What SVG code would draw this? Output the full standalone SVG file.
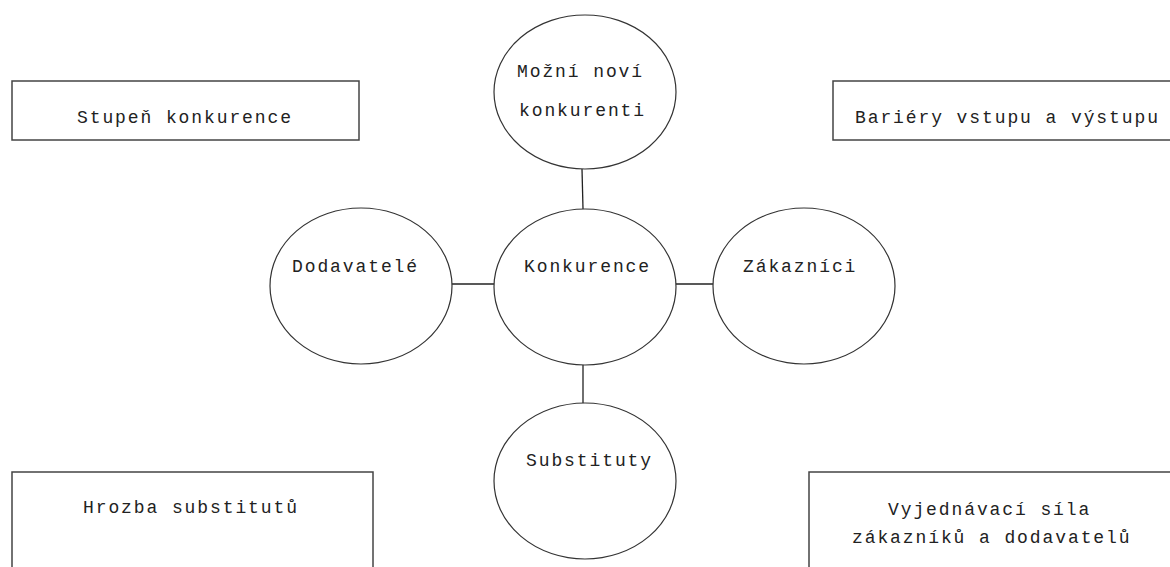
<svg xmlns="http://www.w3.org/2000/svg" width="1170" height="567" viewBox="0 0 1170 567">
<style>
.box{fill:#fff;stroke:#444;stroke-width:1.5}
.node{fill:#fff;stroke:#333;stroke-width:1.2}
.lbl{font-family:"Liberation Mono","Courier New",monospace;font-size:18px;letter-spacing:1.9px;fill:#222}
.conn line{stroke:#222;stroke-width:1.3}
</style>
<rect width="1170" height="567" fill="#fff"/>
<g id="connectors" class="conn">
<line x1="582" y1="169" x2="583" y2="209"/>
<line x1="452" y1="284" x2="494" y2="284"/>
<line x1="676" y1="284" x2="713" y2="284"/>
<line x1="583" y1="365" x2="583" y2="403"/>
</g>
<g id="box-stupen">
<rect class="box" x="12" y="81" width="347" height="59"/>
<text class="lbl" x="77" y="123">Stupeň konkurence</text>
</g>
<g id="box-bariery">
<rect class="box" x="833" y="81" width="345" height="59"/>
<text class="lbl" x="855" y="123">Bariéry vstupu a výstupu</text>
</g>
<g id="box-hrozba">
<rect class="box" x="12" y="472" width="361" height="110"/>
<text class="lbl" x="83" y="513">Hrozba substitutů</text>
</g>
<g id="box-vyjednavaci">
<rect class="box" x="809" y="472" width="370" height="110"/>
<text class="lbl" x="888" y="515">Vyjednávací síla</text>
<text class="lbl" x="852" y="543">zákazníků a dodavatelů</text>
</g>
<g id="node-novi">
<ellipse class="node" cx="585" cy="92" rx="91" ry="77"/>
<text class="lbl" x="517" y="77">Možní noví</text>
<text class="lbl" x="519" y="116">konkurenti</text>
</g>
<g id="node-dodavatele">
<ellipse class="node" cx="361" cy="286" rx="91" ry="78"/>
<text class="lbl" x="292" y="272">Dodavatelé</text>
</g>
<g id="node-konkurence">
<ellipse class="node" cx="585" cy="287" rx="91" ry="78"/>
<text class="lbl" x="524" y="272">Konkurence</text>
</g>
<g id="node-zakaznici">
<ellipse class="node" cx="804" cy="286" rx="91" ry="78"/>
<text class="lbl" x="743" y="272">Zákazníci</text>
</g>
<g id="node-substituty">
<ellipse class="node" cx="585" cy="481" rx="91" ry="78"/>
<text class="lbl" x="526" y="466">Substituty</text>
</g>
</svg>
